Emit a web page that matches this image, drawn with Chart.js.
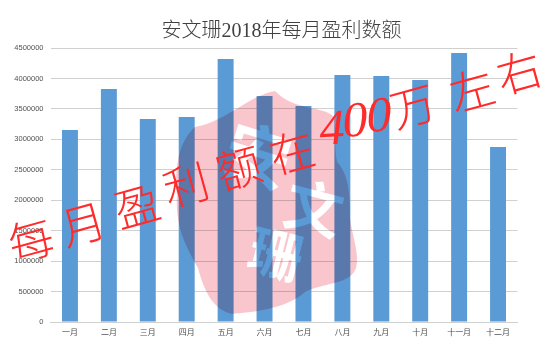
<!DOCTYPE html>
<html>
<head>
<meta charset="utf-8">
<script src="https://cdn.jsdelivr.net/npm/chart.js@4/dist/chart.umd.min.js"></script>
<style>
  html, body { margin: 0; padding: 0; background: #fff; }
  #frame { position: absolute; left: 8px; top: 5px; width: 516px; height: 336px; border: 2px solid #d9d9d9; }
  #profit { position: absolute; left: 0; top: 0; }
</style>
</head>
<body>
<div id="frame"></div>
<canvas id="profit" width="547" height="355"></canvas>
<script>
const months = ['一月', '二月', '三月', '四月', '五月', '六月', '七月', '八月', '九月', '十月', '十一月', '十二月'];
const profit = [3153000, 3827000, 3334000, 3367000, 4320000, 3712000, 3547000, 4057000, 4040000, 3975000, 4418000, 2874000];
const chartTitle = '安文珊2018年每月盈利数额';
const noteChars = ['每', '月', '盈', '利', '额', '在', '4', '0', '0', '万', '左', '右'];
const stampChars = ['安', '文', '珊'];

// title sits a little left of the plot centre in the original
const titleShift = {
  id: 'titleShift',
  afterLayout(chart) {
    chart.titleBlock.left = 16;
    chart.titleBlock.right = 547;
  }
};

// pink stamp, multiplied over the bars, white characters show what is below
const stamp = {
  id: 'stamp',
  afterDatasetsDraw(chart) {
    const layer = document.createElement('canvas');
    layer.width = 547;
    layer.height = 355;
    const s = layer.getContext('2d');
    s.fillStyle = '#fff';
    s.fillRect(0, 0, 547, 355);
    s.fillStyle = '#fac6cd';
    s.beginPath();
    s.moveTo(275, 91);
    s.bezierCurveTo(295, 112, 325, 105, 335, 118);
    s.bezierCurveTo(335, 140, 335, 150, 337, 162);
    s.bezierCurveTo(350, 175, 350, 200, 350, 218);
    s.bezierCurveTo(352, 235, 360, 255, 356, 268);
    s.bezierCurveTo(350, 285, 325, 282, 305, 292);
    s.bezierCurveTo(285, 310, 250, 312, 232, 314);
    s.bezierCurveTo(215, 310, 205, 295, 198, 268);
    s.bezierCurveTo(185, 245, 175, 225, 177, 195);
    s.bezierCurveTo(174, 165, 180, 140, 195, 127);
    s.bezierCurveTo(225, 122, 250, 95, 275, 91);
    s.fill();

    s.fillStyle = '#fff';
    s.textAlign = 'center';
    s.textBaseline = 'middle';
    const spots = [[258, 155, 66, 0.3], [314, 208, 58, 0.25], [276, 254, 54, 0.25]];
    stampChars.forEach((t, i) => {
      s.save();
      s.translate(spots[i][0], spots[i][1]);
      s.rotate(spots[i][3]);
      s.font = '700 ' + spots[i][2] + 'px "Noto Sans CJK SC"';
      s.fillText(t, 0, 0);
      s.restore();
    });

    const c = chart.ctx;
    c.save();
    c.globalCompositeOperation = 'multiply';
    c.drawImage(layer, 0, 0);
    c.restore();
  }
};

// red handwritten note across the chart
const note = {
  id: 'note',
  afterDraw(chart) {
    const c = chart.ctx;
    const spots = [[31, 240], [83, 224], [137, 206], [186, 185], [239, 168], [292, 152],
      [332, 131], [355, 123], [379, 118], [413, 106], [472, 90], [519, 72]];
    c.save();
    c.fillStyle = '#ff2b2b';
    c.textAlign = 'center';
    c.textBaseline = 'middle';
    noteChars.forEach((t, i) => {
      const digit = i >= 6 && i <= 8;
      c.save();
      c.translate(spots[i][0], spots[i][1]);
      c.rotate(digit ? -0.05 : -0.27);
      c.font = digit ? 'italic 50px "Liberation Serif"' : '300 45px "Noto Sans CJK SC"';
      c.fillText(t, 0, 0);
      c.restore();
    });
    c.restore();
  }
};

new Chart(document.getElementById('profit'), {
  type: 'bar',
  data: {
    labels: months,
    datasets: [{
      data: profit,
      backgroundColor: '#5b9bd5',
      barPercentage: 1,
      categoryPercentage: 0.41
    }]
  },
  options: {
    responsive: false,
    animation: false,
    layout: { padding: { left: 0, right: 29.5, top: 0, bottom: 0 } },
    plugins: {
      legend: { display: false },
      tooltip: { enabled: false },
      title: {
        display: true,
        text: chartTitle,
        color: '#404040',
        font: { family: '"Liberation Serif", "Noto Sans CJK SC"', size: 20, weight: '300' },
        padding: { top: 20, bottom: 4 }
      }
    },
    scales: {
      x: {
        afterFit(axis) { axis.height = 33; },
        grid: { display: false, drawTicks: false },
        border: { color: '#d0d0d0' },
        ticks: { color: '#505050', font: { family: '"Noto Sans CJK SC"', size: 8 }, maxRotation: 0, autoSkip: false, padding: 5 }
      },
      y: {
        min: 0,
        max: 4500000,
        afterFit(axis) { axis.width = 50.5; },
        grid: { color: '#d0d0d0', drawTicks: false },
        border: { display: false },
        ticks: {
          stepSize: 500000,
          color: '#505050',
          font: { family: '"Liberation Sans"', size: 7.5 },
          padding: 7,
          callback: v => String(v)
        }
      }
    }
  },
  plugins: [titleShift, stamp, note]
});
</script>
</body>
</html>
